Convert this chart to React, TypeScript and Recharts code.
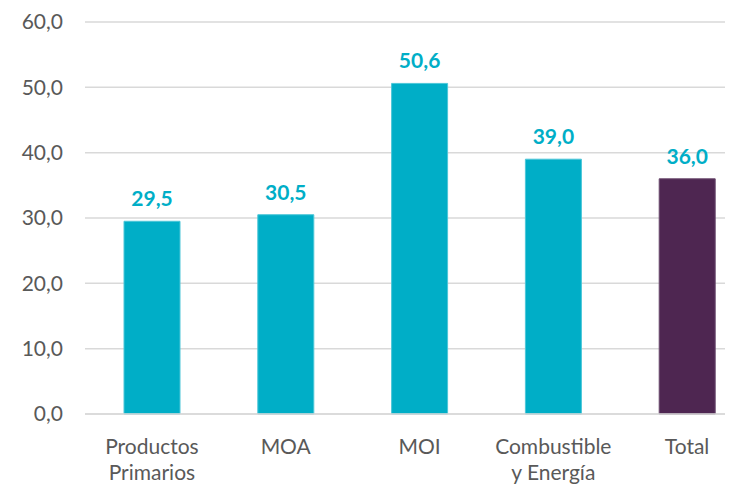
import { BarChart, Bar, XAxis, YAxis, CartesianGrid, Cell, LabelList } from 'recharts'

const categories = ['Productos Primarios', 'MOA', 'MOI', 'Combustible y Energía', 'Total']
const categoryLines = [['Productos', 'Primarios'], ['MOA'], ['MOI'], ['Combustible', 'y Energía'], ['Total']]
const values = [29.5, 30.5, 50.6, 39.0, 36.0]
const yTicks = [0, 10, 20, 30, 40, 50, 60]

const TEAL = '#00AEC7'
const PURPLE = '#4E2651'
const FONT = 'Lato, "Open Sans", sans-serif'

const data = categories.map((name, i) => ({ name, value: values[i], idx: i }))

const fmt = (v: number) => v.toFixed(1).replace('.', ',')

function CategoryTick(props: any) {
  const { x, y, payload } = props
  const lines = categoryLines[payload.index] ?? [payload.value]
  return (
    <text x={x} y={y + 32} textAnchor="middle" fill="#595959" fontSize={21} fontFamily={FONT}>
      {lines.map((line, i) => (
        <tspan key={i} x={x} dy={i === 0 ? 0 : 26}>{line}</tspan>
      ))}
    </text>
  )
}

function ValueLabel(props: any) {
  const { x, y, width, value } = props
  return (
    <text x={x + width / 2} y={y - 15} textAnchor="middle" fill={TEAL}
      fontSize={21} fontWeight="bold" fontFamily={FONT}>
      {fmt(value)}
    </text>
  )
}

export default function App() {
  return (
    <div style={{ width: 725, height: 477, overflow: 'hidden' }}>
      <BarChart width={760} height={477} data={data}
        margin={{ top: 14, right: 14, bottom: 0, left: 0 }}>
        <CartesianGrid vertical={false} stroke="#d9d9d9" strokeWidth={1.5} />
        <XAxis dataKey="name" height={71} axisLine={{ stroke: '#d9d9d9', strokeWidth: 1.5 }}
          tickLine={false} tick={<CategoryTick />} interval={0} />
        <YAxis width={77} domain={[0, 60]} ticks={yTicks} axisLine={false} tickLine={false}
          tickMargin={16} tickFormatter={fmt}
          tick={{ fill: '#595959', fontSize: 21, fontFamily: FONT }} />
        <Bar dataKey="value" barSize={56} isAnimationActive={false}>
          {data.map((d) => (
            <Cell key={d.name} fill={d.idx === 4 ? PURPLE : TEAL}
              stroke={d.idx === 4 ? '#6b4a6e' : '#4cc6d8'} strokeWidth={1} />
          ))}
          <LabelList dataKey="value" content={<ValueLabel />} />
        </Bar>
      </BarChart>
    </div>
  )
}
